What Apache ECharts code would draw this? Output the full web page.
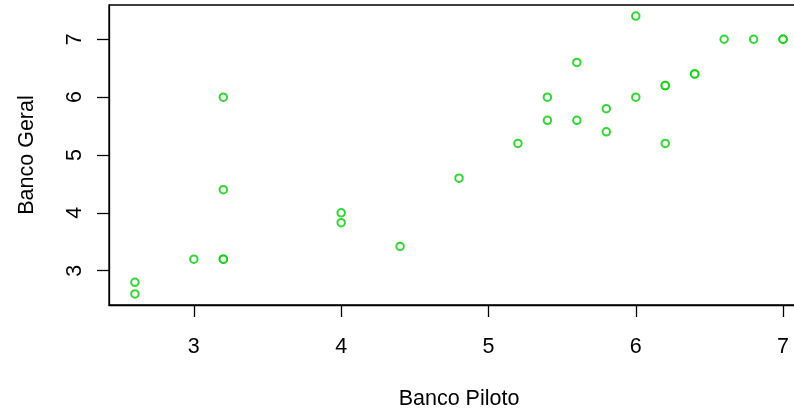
<!DOCTYPE html>
<html>
<head>
<meta charset="utf-8">
<script src="https://cdn.jsdelivr.net/npm/echarts@6/dist/echarts.min.js"></script>
<style>
html,body{margin:0;padding:0;background:#fff;overflow:hidden;}
#chart{width:794px;height:410px;}
</style>
</head>
<body>
<div id="chart"></div>
<script>
var bancoPiloto = [2.6, 2.6, 3.0, 3.2, 3.2, 3.2, 3.2, 4.0, 4.0, 4.4, 4.8, 5.2, 5.4, 5.4, 5.6, 5.6, 5.8, 5.8, 6.0, 6.0, 6.2, 6.2, 6.2, 6.4, 6.4, 6.6, 6.8, 7.0, 7.0];
var bancoGeral  = [2.8, 2.6, 3.2, 3.2, 3.2, 4.4, 6.0, 4.0, 3.83, 3.42, 4.6, 5.2, 6.0, 5.6, 5.6, 6.6, 5.8, 5.4, 6.0, 7.4, 6.2, 6.2, 5.2, 6.4, 6.4, 7.0, 7.0, 7.0, 7.0];
var xTicks = [3, 4, 5, 6, 7];
var yTicks = [3, 4, 5, 6, 7];
var xTitle = 'Banco Piloto';
var yTitle = 'Banco Geral';

var points = bancoPiloto.map(function (x, i) { return [x, bancoGeral[i]]; });
var font = '"Liberation Sans", Arial, sans-serif';
var chart = echarts.init(document.getElementById('chart'), null, {renderer: 'canvas'});
chart.setOption({
  animation: false,
  backgroundColor: '#ffffff',
  grid: {left: 109, top: 5, bottom: 105, right: -15, containLabel: false, outerBoundsMode: 'none',
         show: true, borderColor: '#000', borderWidth: 1.3, backgroundColor: 'transparent'},
  xAxis: {
    type: 'value', min: 2.424, max: 7.176,
    name: xTitle, nameLocation: 'middle', nameGap: 83,
    nameTextStyle: {fontFamily: font, fontSize: 21.5, color: '#000'},
    axisLine: {show: true, onZero: false, lineStyle: {color: '#000', width: 1.3}},
    axisTick: {show: true, length: 12, customValues: xTicks, lineStyle: {color: '#000', width: 1.3}},
    axisLabel: {customValues: xTicks, margin: 31, fontFamily: font, fontSize: 21.5, color: '#000'},
    splitLine: {show: false}
  },
  yAxis: {
    type: 'value', min: 2.408, max: 7.592,
    name: yTitle, nameLocation: 'middle', nameGap: 71, nameRotate: 90,
    nameTextStyle: {fontFamily: font, fontSize: 21.5, color: '#000'},
    axisLine: {show: true, onZero: false, lineStyle: {color: '#000', width: 1.3}},
    axisTick: {show: true, length: 12, customValues: yTicks, lineStyle: {color: '#000', width: 1.3}},
    axisLabel: {customValues: yTicks, rotate: 90, margin: 23, fontFamily: font, fontSize: 21.5, color: '#000'},
    splitLine: {show: false}
  },
  series: [{
    type: 'scatter',
    data: points,
    symbol: 'emptyCircle',
    symbolSize: 7.5,
    itemStyle: {color: '#00CD00', borderColor: '#00CD00', borderWidth: 1.7},
    emphasis: {disabled: true}
  }]
});
</script>
</body>
</html>
